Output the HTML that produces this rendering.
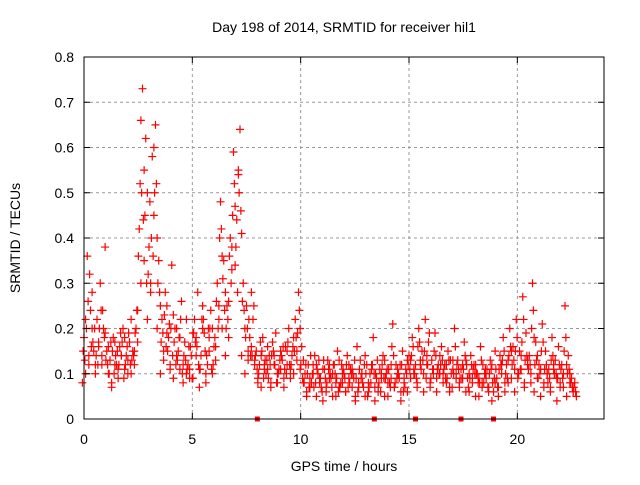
<!DOCTYPE html>
<html><head><meta charset="utf-8"><style>
body{margin:0;background:#fff;}
svg text{font-family:"Liberation Sans",sans-serif;font-size:14px;fill:#000;}
</style></head><body>
<svg id="chart" width="640" height="480" xmlns="http://www.w3.org/2000/svg">
<rect width="640" height="480" fill="#fff"/>
<g id="grid"></g>
<g id="marks"></g>
<rect x="84" y="57" width="520" height="362" fill="none" stroke="#000" stroke-width="1"/>
<g id="ticks"></g>
<text x="344" y="32" text-anchor="middle">Day 198 of 2014, SRMTID for receiver hil1</text>
<text x="344" y="471" text-anchor="middle">GPS time / hours</text>
<text x="20" y="238" text-anchor="middle" transform="rotate(-90 20 238)">SRMTID / TECUs</text>
</svg>
<script>
const xTicks=[0,5,10,15,20];
const yTicks=[0,0.1,0.2,0.3,0.4,0.5,0.6,0.7,0.8];
const yTickLabels=["0","0.1","0.2","0.3","0.4","0.5","0.6","0.7","0.8"];
const hours=[0,.15,.3,.45,.6,.75,.9,1.05,1.2,1.35,1.5,1.65,1.8,1.95,2.1,2.25,2.4,2.55,2.7,2.85,3,3.15,3.3,3.45,3.6,3.75,3.9,4.05,4.2,4.35,4.5,4.65,4.8,4.95,5.1,5.25,5.4,5.55,5.7,5.85,6,6.15,6.3,6.45,6.6,6.75,6.9,7.05,7.2,7.35,7.5,7.65,7.8,7.95,8.1,8.25,8.4,8.55,8.7,8.85,9,9.15,9.3,9.45,9.6,9.75,9.9,10.05,10.2,10.35,10.5,10.65,10.8,10.95,11.1,11.25,11.4,11.55,11.7,11.85,12,12.15,12.3,12.45,12.6,12.75,12.9,13.05,13.2,13.35,13.5,13.65,13.8,13.95,14.1,14.25,14.4,14.55,14.7,14.85,15,15.15,15.3,15.45,15.6,15.75,15.9,16.05,16.2,16.35,16.5,16.65,16.8,16.95,17.1,17.25,17.4,17.55,17.7,17.85,18,18.15,18.3,18.45,18.6,18.75,18.9,19.05,19.2,19.35,19.5,19.65,19.8,19.95,20.1,20.25,20.4,20.55,20.7,20.85,21,21.15,21.3,21.45,21.6,21.75,21.9,22.05,22.2,22.35,22.5,22.65];
const tecA=[.18,.36,.24,.15,.22,.30,.20, .15,.13,.18,.12,.16,.20,.14,.17,.15, .20,.42,.73,.62,.38,.58,.65,.35, .22,.28,.18,.34,.20,.15,.26,.17,.12,.14, .22,.28,.14,.19,.12,.24,.16, .30,.48,.35,.25,.40,.59,.44,.64,.30, .25,.18,.22, .15,.12,.18,.10,.14,.17,.19,.11,.13,.16,.20,.14,.22,.28, .16,.10,.12,.08,.14,.10,.07,.11,.13,.09,.12,.15,.08,.10,.14,.11,.09,.16,.13,.07,.12,.10,.18,.09,.11,.14,.10,.08,.21,.12,.09,.15,.11, .14,.18,.12,.20,.15,.22,.17,.13,.19,.12,.16, .12,.15,.10,.20,.13,.11,.17,.09,.14,.12,.10,.16,.08,.11,.13,.06,.09, .14,.18,.12,.20,.16,.22,.15,.27,.19,.14,.30,.17,.12,.21,.15,.11,.18,.13,.16,.12,.25,.14,.09,.08];
const tecB=[.10,.14,.28,.12,.17,.12,.38, .10,.08,.12,.09,.14,.11,.10,.22,.12, .17,.30,.55,.50,.28,.45,.40,.25, .15,.19,.12,.23,.14,.11,.12,.10,.09,.19, .14,.11,.20,.08,.18,.10,.13, .22,.36,.28,.18,.33,.47,.54,.41,.20, .15,.28,.12, .09,.14,.11,.16,.08,.12,.10,.15,.09,.12,.11,.18,.13,.20, .08,.06,.09,.12,.05,.08,.11,.06,.09,.05,.08,.07,.10,.06,.09,.07,.04,.08,.10,.05,.08,.12,.07,.06,.09,.05,.08,.12,.07,.10,.06,.08,.13, .09,.11,.08,.13,.10,.12,.08,.10,.09,.14,.08, .08,.06,.11,.09,.07,.12,.06,.10,.08,.05,.09,.07,.11,.06,.04,.08,.05, .10,.08,.13,.09,.11,.10,.14,.08,.12,.10,.18,.09,.11,.08,.10,.07,.12,.09,.07,.10,.12,.08,.06,.05];
const tecC=[.08,.22,.12,.20,.10,.16,.14, .19,.16,.07,.17,.11,.14,.18,.13,.10, .15,.24,.66,.35,.22,.30,.60,.20, .10,.13,.25,.11,.09,.20,.18,.08,.22,.11, .09,.18,.07,.25,.10,.15,.20, .16,.25,.20,.14,.26,.38,.34,.55,.14, .10,.13,.16, .13,.08,.07,.12,.11,.07,.14,.08,.11,.07,.15,.09,.10,.15, .11,.13,.05,.07,.10,.12,.09,.04,.07,.12,.10,.05,.13,.08,.06,.12,.11,.05,.07,.10,.14,.06,.11,.04,.07,.10,.13,.05,.09,.07,.11,.04,.09, .06,.13,.10,.07,.12,.06,.14,.07,.11,.06,.10, .10,.12,.07,.13,.10,.08,.09,.13,.06,.09,.12,.05,.08,.10,.07,.12,.15, .07,.12,.06,.08,.15,.06,.09,.11,.07,.13,.08,.06,.14,.05,.07,.10,.06,.11,.04,.08,.07,.05,.10,.06];
const tecD=[.13,.26,.16,.20,.12,.24,.18, .12,.17,.10,.15,.19,.09,.16,.12,.14, .24,.52,.44,.30,.48,.36,.52,.28, .19,.16,.21,.14,.12,.18,.10,.13,.16,.09, .17,.12,.22,.15,.20,.11,.18, .20,.42,.24,.22,.30,.52,.28,.46,.24, .20,.14,.25, .11,.17,.09,.13,.12,.15,.08,.13,.16,.10,.12,.16,.18,.24, .09,.12,.07,.10,.08,.13,.06,.09,.11,.07,.10,.06,.12,.09,.07,.10,.13,.06,.09,.12,.05,.08,.10,.13,.06,.09,.11,.07,.14,.09,.12,.06,.10, .11,.16,.09,.17,.13,.09,.19,.11,.14,.10,.13, .09,.13,.07,.16,.11,.09,.14,.07,.12,.10,.08,.13,.10,.07,.11,.09,.07, .12,.15,.09,.16,.13,.18,.11,.22,.14,.12,.24,.13,.10,.17,.12,.09,.14,.10,.12,.09,.18,.11,.07,.06];
const tecE=[.15,.20,.32,.17,.14,.20,.24, .13,.10,.15,.14,.12,.17,.12,.19,.13, .19,.36,.50,.45,.32,.40,.50,.30, .17,.23,.15,.20,.17,.13,.22,.14,.11,.16, .19,.16,.11,.22,.14,.20,.12, .26,.40,.31,.20,.36,.45,.38,.50,.26, .18,.22,.14, .14,.10,.15,.13,.09,.14,.12,.10,.14,.11,.17,.12,.15,.19, .12,.08,.10,.14,.07,.11,.09,.13,.08,.10,.12,.09,.07,.11,.12,.08,.10,.09,.11,.08,.10,.07,.12,.10,.08,.12,.09,.11,.16,.08,.10,.12,.07, .12,.14,.10,.16,.11,.15,.12,.09,.15,.11,.12, .11,.09,.13,.10,.12,.09,.11,.12,.09,.11,.10,.08,.12,.09,.10,.08,.11, .11,.13,.10,.14,.12,.15,.10,.17,.13,.11,.20,.12,.09,.15,.11,.08,.13,.10,.09,.11,.15,.10,.08,.07];
const zeroHours=[8,13.4,15.3,17.4,18.9];
const NS="http://www.w3.org/2000/svg";
const X0=84,X1=604,Y0=419,Y1=57,XMAX=24,YMAX=0.8;
function xs(v){return X0+(X1-X0)*v/XMAX;}
function ys(v){return Y0-(Y0-Y1)*v/YMAX;}
function mk(tag,attrs,parent){const e=document.createElementNS(NS,tag);for(const k in attrs)e.setAttribute(k,attrs[k]);parent.appendChild(e);return e;}
const grid=document.getElementById('grid'),ticks=document.getElementById('ticks'),marks=document.getElementById('marks');
xTicks.forEach(t=>{
  const x=xs(t);
  if(t>0){const g=mk('line',{x1:x,x2:x,y1:Y0,y2:Y1,stroke:'#999','stroke-dasharray':'3,3'},grid);
  
  }
  mk('line',{x1:x,x2:x,y1:Y0,y2:Y0-6,stroke:'#000'},ticks);
  mk('line',{x1:x,x2:x,y1:Y1,y2:Y1+6,stroke:'#000'},ticks);
  const l=mk('text',{x:x,y:Y0+25,'text-anchor':'middle'},ticks);l.textContent=t;
  
  
});
yTicks.forEach((t,i)=>{
  const y=ys(t);
  if(t>0&&t<YMAX){const g=mk('line',{x1:X0,x2:X1,y1:y,y2:y,stroke:'#999','stroke-dasharray':'3,3'},grid);
  
  }
  mk('line',{x1:X0,x2:X0+6,y1:y,y2:y,stroke:'#000'},ticks);
  mk('line',{x1:X1,x2:X1-6,y1:y,y2:y,stroke:'#000'},ticks);
  const l=mk('text',{x:X0-10,y:y+5,'text-anchor':'end'},ticks);l.textContent=yTickLabels[i];
  
  
});
const series=[[tecA,0,'#f00'],[tecB,0.075,'#f00'],[tecC,-0.075,'#f00'],[tecD,0.04,'#f00'],[tecE,-0.04,'#f00']];
series.forEach(([vals,off,col])=>{
  vals.forEach((v,i)=>{
    const x=xs(hours[i]+off),y=ys(v);
    const p=mk('path',{d:`M${x-4},${y}H${x+4}M${x},${y-4}V${y+4}`,stroke:col,'stroke-width':1.2,fill:'none'},marks);
    
    
  });
});
zeroHours.forEach(h=>{
  const r=mk('rect',{x:xs(h)-2.5,y:Y0-2.5,width:5,height:5,fill:'#f00'},marks);
  
  
});
</script>
</body></html>
